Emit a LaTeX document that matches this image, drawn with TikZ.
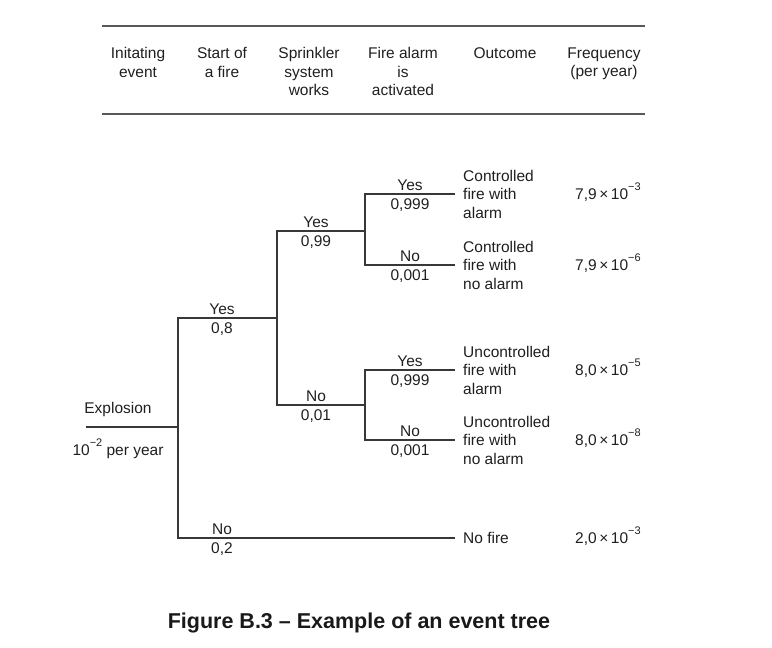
\documentclass[tikz,border=0pt]{standalone}
\usepackage{fontspec}
\setmainfont{Liberation Sans}
\usetikzlibrary{positioning}

\newcommand{\expo}[1]{\raisebox{1.15ex}{\fontsize{11}{11}\selectfont #1}}

\begin{document}
\begin{tikzpicture}[x=1pt,y=-1pt,
                    txt/.style={text=black!88,inner sep=0pt,align=center,font=\fontsize{15.5}{18.5}\selectfont},
                    freq/.style={txt,anchor=base west,yshift=-5.5pt},
                    branch/.style={draw=black!78,line width=1.4pt},
                    rule/.style={draw=black!65,line width=2.4pt}]

\useasboundingbox (0,0) rectangle (772,648);

%Header rules
 \coordinate (RuleTopL) at (102,26);
 \coordinate (RuleTopR) at (645,26);
 \coordinate (RuleBotL) at (102,114);
 \coordinate (RuleBotR) at (645,114);
 \draw[rule] (RuleTopL) -- (RuleTopR);
 \draw[rule] (RuleBotL) -- (RuleBotR);

%Column headings
 \foreach \hx/\htext [count=\i] in {138/{Initating\\event},222/{Start of\\a fire},309/{Sprinkler\\system\\works},403/{Fire alarm\\is\\activated},505/{Outcome},604/{Frequency\\(per year)}}
   \node[txt,anchor=north] (Head\i) at (\hx,47.5) {\htext};

%Tree points
 \coordinate (Start) at (86,427);
 \coordinate (S0) at (178,427);
 \coordinate (S1) at (277,318);
 \coordinate (S2) at (365,231);
 \coordinate (S3) at (365,405);
 \coordinate (E1) at (455,194);
 \coordinate (E2) at (455,265);
 \coordinate (E3) at (455,370);
 \coordinate (E4) at (455,440);
 \coordinate (E5) at (455,538);

%Branches
 \draw[branch] (Start) -- (S0);
 \draw[branch] (S0) |- (S1);
 \draw[branch] (S0) |- (E5);
 \draw[branch] (S1) |- (S2);
 \draw[branch] (S1) |- (S3);
 \draw[branch] (S2) |- (E1);
 \draw[branch] (S2) |- (E2);
 \draw[branch] (S3) |- (E3);
 \draw[branch] (S3) |- (E4);

%Initiating event
 \node[txt] (Init) at (118,409) {Explosion};
 \node[txt,anchor=base] (Rate) at (118,455.5) {10\expo{−2} per year};

%Branch labels
 \foreach \lx/\ly/\up/\down [count=\i] in {222/318/Yes/{0,8},222/538/No/{0,2},316/231/Yes/{0,99},316/405/No/{0,01},410/194/Yes/{0,999},410/265/No/{0,001},410/370/Yes/{0,999},410/440/No/{0,001}}
  {\node[txt,anchor=base] (Up\i) at (\lx,\ly-3.5) {\up};
   \node[txt,anchor=base] (Down\i) at (\lx,\ly+15) {\down};}

%Outcomes
 \node[txt,align=left,right=8pt of E1] (Out1) {Controlled\\fire with\\alarm};
 \node[txt,align=left,right=8pt of E2] (Out2) {Controlled\\fire with\\no alarm};
 \node[txt,align=left,right=8pt of E3] (Out3) {Uncontrolled\\fire with\\alarm};
 \node[txt,align=left,right=8pt of E4] (Out4) {Uncontrolled\\fire with\\no alarm};
 \node[txt,align=left,right=8pt of E5] (Out5) {No fire};

%Frequencies
 \node[right=120pt of E1,freq] (Freq1) {7,9\,×\,10\expo{−3}};
 \node[right=120pt of E2,freq] (Freq2) {7,9\,×\,10\expo{−6}};
 \node[right=120pt of E3,freq] (Freq3) {8,0\,×\,10\expo{−5}};
 \node[right=120pt of E4,freq] (Freq4) {8,0\,×\,10\expo{−8}};
 \node[right=120pt of E5,freq] (Freq5) {2,0\,×\,10\expo{−3}};

%Caption
 \node[text=black!90,inner sep=0pt,font=\bfseries\fontsize{21.5}{25}\selectfont] (Caption) at (359,623) {Figure B.3 – Example of an event tree};

\end{tikzpicture}
\end{document}
